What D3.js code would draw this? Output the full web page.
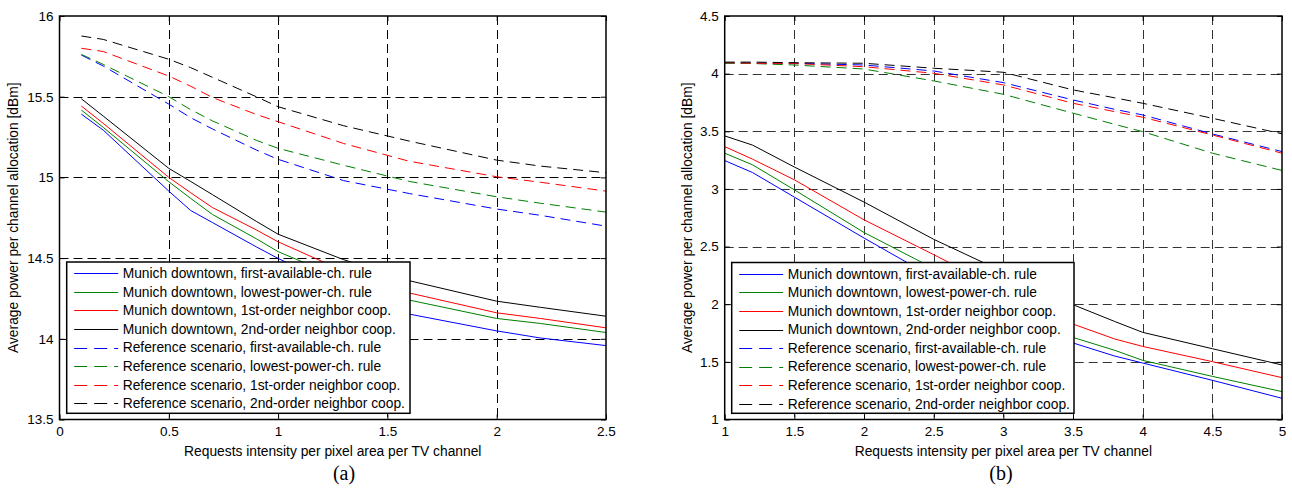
<!DOCTYPE html>
<html>
<head>
<meta charset="utf-8">
<script src="https://cdn.jsdelivr.net/npm/d3@7/dist/d3.min.js"></script>
<style>
  body { margin: 0; background: #fff; }
  svg text { font-family: "Liberation Sans", Arial, sans-serif; fill: #000; }
</style>
</head>
<body>
<svg id="chart" width="1292" height="489"></svg>
<script>
// --- Data, panel (a)
const aX = [0.1, 0.2, 0.5, 0.6, 0.7, 0.9, 1.0, 1.3, 1.6, 2.0, 2.2, 2.5]
const aMunichFirst  = [15.392, 15.293, 14.915, 14.795, 14.72, 14.57, 14.498, 14.31, 14.153, 14.049, 14.005, 13.958]
const aMunichLowest = [15.417, 15.31, 14.973, 14.87, 14.77, 14.62, 14.54, 14.37, 14.24, 14.126, 14.095, 14.039]
const aMunich1st    = [15.442, 15.335, 15.0, 14.905, 14.813, 14.675, 14.601, 14.42, 14.284, 14.161, 14.126, 14.068]
const aMunich2nd    = [15.487, 15.38, 15.056, 14.975, 14.893, 14.728, 14.648, 14.49, 14.36, 14.233, 14.195, 14.14]
const aRefFirst     = [15.758, 15.69, 15.454, 15.37, 15.30, 15.17, 15.112, 14.98, 14.90, 14.804, 14.765, 14.698]
const aRefLowest    = [15.762, 15.70, 15.50, 15.42, 15.35, 15.23, 15.18, 15.075, 14.975, 14.88, 14.84, 14.785]
const aRef1st       = [15.80, 15.78, 15.628, 15.565, 15.495, 15.39, 15.345, 15.21, 15.10, 15.004, 14.97, 14.915]
const aRef2nd       = [15.876, 15.855, 15.732, 15.68, 15.62, 15.50, 15.438, 15.32, 15.225, 15.107, 15.07, 15.029]
const aXTicks = [0, 0.5, 1, 1.5, 2, 2.5]
const aYTicks = [13.5, 14, 14.5, 15, 15.5, 16]

// --- Data, panel (b)
const bX = [1, 1.2, 1.5, 2, 2.5, 3, 3.5, 3.8, 4, 4.5, 5]
const bMunichFirst  = [3.246, 3.142, 2.929, 2.574, 2.23, 1.94, 1.664, 1.55, 1.49, 1.34, 1.184]
const bMunichLowest = [3.31, 3.209, 2.992, 2.622, 2.31, 2.0, 1.712, 1.6, 1.513, 1.374, 1.242]
const bMunich1st    = [3.367, 3.258, 3.079, 2.732, 2.43, 2.12, 1.828, 1.698, 1.634, 1.502, 1.363]
const bMunich2nd    = [3.46, 3.38, 3.19, 2.886, 2.563, 2.28, 1.996, 1.85, 1.756, 1.614, 1.473]
const bRefFirst     = [4.093, 4.092, 4.09, 4.075, 4.023, 3.922, 3.772, 3.69, 3.642, 3.477, 3.324]
const bRefLowest    = [4.09, 4.088, 4.075, 4.04, 3.937, 3.821, 3.657, 3.56, 3.497, 3.31, 3.16]
const bRef1st       = [4.095, 4.09, 4.088, 4.06, 4.003, 3.902, 3.743, 3.67, 3.622, 3.468, 3.31]
const bRef2nd       = [4.10, 4.10, 4.095, 4.09, 4.047, 4.012, 3.859, 3.79, 3.743, 3.613, 3.478]
const bXTicks = [1, 1.5, 2, 2.5, 3, 3.5, 4, 4.5, 5]
const bYTicks = [1, 1.5, 2, 2.5, 3, 3.5, 4, 4.5]

const legendLabels = [
    "Munich downtown, first-available-ch. rule",
    "Munich downtown, lowest-power-ch. rule",
    "Munich downtown, 1st-order neighbor coop.",
    "Munich downtown, 2nd-order neighbor coop.",
    "Reference scenario, first-available-ch. rule",
    "Reference scenario, lowest-power-ch. rule",
    "Reference scenario, 1st-order neighbor coop.",
    "Reference scenario, 2nd-order neighbor coop."
]
const seriesColors = ["#0000ff", "#008000", "#ff0000", "#000000", "#0000ff", "#008000", "#ff0000", "#000000"]
const seriesDashed = [false, false, false, false, true, true, true, true]

const xLabel = "Requests intensity per pixel area per TV channel"
const yLabel = "Average power per channel allocation [dBm]"

const svg = d3.select("#chart")
const fmt = d3.format("~g")
const crisp = v => Math.round(v) + 0.5

function drawPanel(p) {
    const x = d3.scaleLinear().domain(p.xDomain).range([p.left, p.right])
    const y = d3.scaleLinear().domain(p.yDomain).range([p.bottom, p.top])
    const g = svg.append("g")

    // grid
    g.selectAll(".gx").data(p.xTicks.slice(1, -1)).join("line")
        .attr("x1", d => crisp(x(d))).attr("x2", d => crisp(x(d)))
        .attr("y1", p.top).attr("y2", p.bottom)
        .attr("stroke", p.gridColor).attr("stroke-width", 1)
        .attr("stroke-dasharray", "9,5")
    g.selectAll(".gy").data(p.yTicks.slice(1, -1)).join("line")
        .attr("x1", p.left).attr("x2", p.right)
        .attr("y1", d => crisp(y(d))).attr("y2", d => crisp(y(d)))
        .attr("stroke", p.gridColor).attr("stroke-width", 1)
        .attr("stroke-dasharray", "9,5")

    // axes (inward ticks like matlab)
    const axB = d3.axisBottom(x).tickValues(p.xTicks).tickSize(-5).tickPadding(7).tickFormat(fmt)
    const axL = d3.axisLeft(y).tickValues(p.yTicks).tickSize(-5).tickPadding(6).tickFormat(fmt)
    const axT = d3.axisTop(x).tickValues(p.xTicks).tickSize(-5).tickFormat("")
    const axR = d3.axisRight(y).tickValues(p.yTicks).tickSize(-5).tickFormat("")
    const gb = g.append("g").attr("transform", `translate(0,${p.bottom})`).call(axB)
    const gl = g.append("g").attr("transform", `translate(${p.left},0)`).call(axL)
    g.append("g").attr("transform", `translate(0,${p.top})`).call(axT)
    g.append("g").attr("transform", `translate(${p.right},0)`).call(axR)
    g.selectAll(".domain").remove()
    g.selectAll(".tick line").attr("stroke", "#000")
    gb.selectAll("text").attr("font-size", 13.5)
    gl.selectAll("text").attr("font-size", 13.5)

    // series
    const line = d3.line().x(d => x(d[0])).y(d => y(d[1]))
    p.series.forEach((vals, i) => {
        g.append("path")
            .datum(p.xs.map((v, j) => [v, vals[j]]))
            .attr("d", line)
            .attr("fill", "none")
            .attr("stroke", seriesColors[i])
            .attr("stroke-width", 1)
            .attr("stroke-dasharray", seriesDashed[i] ? "10,6" : null)
    })

    // box
    g.append("rect")
        .attr("x", p.left).attr("y", p.top)
        .attr("width", p.right - p.left).attr("height", p.bottom - p.top)
        .attr("fill", "none").attr("stroke", "#000").attr("stroke-width", 1.5)

    // legend
    const lg = g.append("g")
    lg.append("rect")
        .attr("x", p.legend.x).attr("y", p.legend.y)
        .attr("width", p.legend.w).attr("height", p.legend.h)
        .attr("fill", "#fff").attr("stroke", "#000").attr("stroke-width", 1.5)
    legendLabels.forEach((lab, i) => {
        const cy = p.legend.y + 11.3 + i * 18.57
        lg.append("line")
            .attr("x1", p.legend.x + 7.5).attr("x2", p.legend.x + 51.5)
            .attr("y1", crisp(cy)).attr("y2", crisp(cy))
            .attr("stroke", seriesColors[i]).attr("stroke-width", 1)
            .attr("stroke-dasharray", seriesDashed[i] ? "13,7" : null)
        lg.append("text")
            .attr("x", p.legend.x + 56).attr("y", cy)
            .attr("dy", "0.35em")
            .attr("font-size", 13.8)
            .text(lab)
    })

    // labels
    g.append("text")
        .attr("x", (p.left + p.right) / 2).attr("y", 455.5)
        .attr("text-anchor", "middle").attr("font-size", 13.8)
        .text(xLabel)
    g.append("text")
        .attr("transform", `translate(${p.yLabelX},${(p.top + p.bottom) / 2}) rotate(-90)`)
        .attr("text-anchor", "middle").attr("font-size", 13.8)
        .text(yLabel)
    g.append("text")
        .attr("x", p.tagX).attr("y", 480)
        .attr("text-anchor", "middle")
        .attr("font-size", 20)
        .style("font-family", "'Liberation Serif', 'Times New Roman', serif")
        .text(p.tag)
}

drawPanel({
    left: 59.5, right: 606, top: 16, bottom: 419.5,
    xDomain: [0, 2.5], yDomain: [13.5, 16],
    xTicks: aXTicks, yTicks: aYTicks,
    xs: aX,
    series: [aMunichFirst, aMunichLowest, aMunich1st, aMunich2nd, aRefFirst, aRefLowest, aRef1st, aRef2nd],
    legend: { x: 66.7, y: 262, w: 343.3, h: 151.3 },
    gridColor: "#000",
    yLabelX: 18, tagX: 344, tag: "(a)"
})

drawPanel({
    left: 724.7, right: 1282, top: 16, bottom: 419.5,
    xDomain: [1, 5], yDomain: [1, 4.5],
    xTicks: bXTicks, yTicks: bYTicks,
    xs: bX,
    series: [bMunichFirst, bMunichLowest, bMunich1st, bMunich2nd, bRefFirst, bRefLowest, bRef1st, bRef2nd],
    legend: { x: 731.7, y: 262.5, w: 342.3, h: 150.8 },
    gridColor: "#333",
    yLabelX: 692, tagX: 1001, tag: "(b)"
})
</script>
</body>
</html>
